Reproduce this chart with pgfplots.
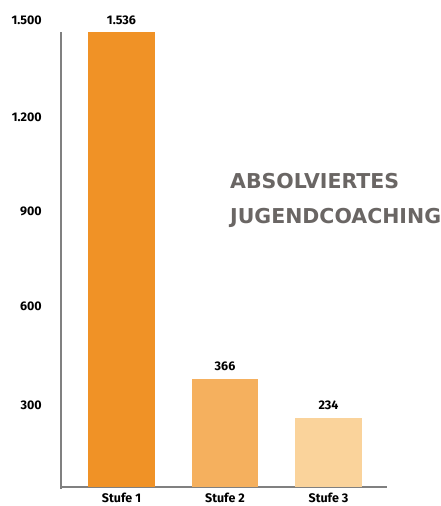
\documentclass[border=0pt]{standalone}
\usepackage{pgfplots}
\pgfplotsset{compat=1.18}
\usepackage{fontspec}
\setmainfont{Fira Sans}
\newfontfamily\titlefont{DejaVu Sans}
\definecolor{barA}{RGB}{240,146,38}
\definecolor{barB}{RGB}{245,176,94}
\definecolor{barC}{RGB}{250,211,155}
\definecolor{axgray}{RGB}{128,128,128}
\definecolor{titlegray}{RGB}{106,102,100}
\begin{document}
\begin{tikzpicture}[x=1pt,y=1pt]
\path[use as bounding box] (0,0) rectangle (440,506);
\begin{axis}[
  at={(61pt,19pt)}, anchor=south west,
  scale only axis, width=326pt, height=467pt,
  xmin=-0.5845, xmax=2.565, ymin=0, ymax=1577,
  axis x line*=bottom, axis y line*=left,
  x axis line style={axgray, line width=2pt, -},
  y axis line style={draw=none},
  major tick length=0pt,
  xtick={0,1,2}, xticklabels={Stufe 1,Stufe 2,Stufe 3},
  ytick={277,611,932,1249,1577},
  yticklabels={300,600,900,1.200,1.500},
  xticklabel style={font=\bfseries\fontsize{12.5}{15}\selectfont, inner sep=0pt, anchor=north, yshift=-6pt},
  yticklabel style={font=\bfseries\fontsize{12.5}{15}\selectfont, inner sep=0pt, anchor=east, xshift=-19pt},
  ybar, bar shift=0pt, bar width=0.647,
  clip=false,
  /pgf/number format/1000 sep={.},
  /pgf/number format/assume math mode=true,
  nodes near coords,
  nodes near coords style={font=\bfseries\fontsize{12.5}{15}\selectfont, anchor=center, inner sep=0pt, yshift=12pt, text=black},
]
\addplot[fill=barA, draw=none] coordinates {(0,1536)};
\addplot[fill=barB, draw=none] coordinates {(1,366)};
\addplot[fill=barC, draw=none] coordinates {(2,234)};
\draw[axgray, line width=2pt] (axis cs:-0.5845,-6) -- (axis cs:-0.5845,1536);
\end{axis}
\node[anchor=base west, inner sep=0pt, text=titlegray, font=\titlefont\bfseries\fontsize{20.5}{24}\selectfont] at (230,317) {ABSOLVIERTES};
\node[anchor=base west, inner sep=0pt, text=titlegray, font=\titlefont\bfseries\fontsize{20.5}{24}\selectfont] at (230,282) {JUGENDCOACHING};
\end{tikzpicture}
\end{document}
